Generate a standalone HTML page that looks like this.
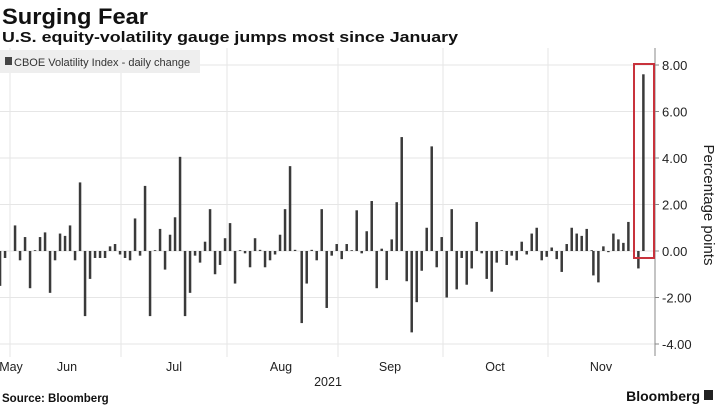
<!DOCTYPE html>
<html><head><meta charset="utf-8"><style>
body{margin:0;background:#fff;width:718px;height:405px;overflow:hidden;font-family:"Liberation Sans",sans-serif}
</style></head><body>
<svg width="718" height="405" xmlns="http://www.w3.org/2000/svg" font-family="Liberation Sans, sans-serif">
<text x="2" y="24" font-size="22" font-weight="bold" fill="#111" textLength="146" lengthAdjust="spacingAndGlyphs">Surging Fear</text>
<text x="2" y="42" font-size="15" font-weight="bold" fill="#111" textLength="456" lengthAdjust="spacingAndGlyphs">U.S. equity-volatility gauge jumps most since January</text>
<g stroke="#e6e6e6" stroke-width="1" id="grid"></g>
<rect x="0" y="50" width="200" height="23" fill="#eeeeee"/>
<rect x="5" y="57" width="7" height="8" fill="#444"/>
<text x="14" y="66" font-size="11" fill="#333">CBOE Volatility Index - daily change</text>
<g id="bars" fill="#3a3a3a"></g>
<line x1="655" y1="48" x2="655" y2="356" stroke="#888" stroke-width="1"/>
<g id="yax" font-size="13" fill="#222"></g>
<rect x="634" y="64" width="20" height="194" fill="none" stroke="#c8323c" stroke-width="2"/>
<text transform="translate(704,205) rotate(90)" text-anchor="middle" font-size="15" fill="#222">Percentage points</text>
<g font-size="12.5" fill="#222" text-anchor="middle">
<text x="11" y="371">May</text><text x="67" y="371">Jun</text><text x="174" y="371">Jul</text><text x="281" y="371">Aug</text><text x="390" y="371">Sep</text><text x="495" y="371">Oct</text><text x="601" y="371">Nov</text>
<text x="328" y="386">2021</text></g>
<text x="2" y="402" font-size="11.5" font-weight="bold" fill="#111">Source: Bloomberg</text>
<text x="700" y="401" font-size="14" font-weight="bold" fill="#111" text-anchor="end">Bloomberg</text>
<rect x="704" y="390" width="9" height="10" fill="#222"/>
</svg>
<script>
var ns="http://www.w3.org/2000/svg";
function el(t,a,p){var e=document.createElementNS(ns,t);for(var k in a)e.setAttribute(k,a[k]);document.getElementById(p).appendChild(e);return e;}
var z=251,u=23.25;
[8,6,4,2,0,-2,-4].forEach(function(v){var y=z-v*u;el('line',{x1:0,x2:655,y1:y,y2:y},'grid');
el('line',{x1:655,x2:659,y1:y,y2:y,stroke:'#888'},'yax');
var t=el('text',{x:662,y:y+5},'yax');t.textContent=(v<0?'-':'')+Math.abs(v).toFixed(2);});
[10,121,227,338,443,548].forEach(function(x){el('line',{x1:x,x2:x,y1:48,y2:357},'grid');});
var a=[[0,-1.5],[15,-0.3],[45,1.1],[60,-0.4],[75,0.6],[90,-1.6],[105,0.02],[120,0.6],[135,0.8],[150,-1.8],[165,-0.4],[180,0.75],[195,0.65],[210,1.1],[225,-0.4],[240,2.95],[255,-2.8],[270,-1.2],[285,-0.3],[300,-0.3],[315,-0.3],[330,0.2],[345,0.3],[360,-0.15],[375,-0.3],[390,-0.4],[405,1.4],[420,-0.2],[435,2.8],[450,-2.8],[465,0.02],[480,0.95],[495,-0.8],[510,0.7],[525,1.45],[540,4.05],[555,-2.8],[570,-1.8],[585,-0.2],[600,-0.5],[615,0.4],[630,1.8],[645,-1.0],[660,-0.6],[675,0.55],[690,1.2],[705,-1.4],[720,0.02],[735,-0.1],[750,-0.7],[765,0.55],[780,0.05],[795,-0.7],[810,-0.4],[825,-0.15],[840,0.7],[855,1.8],[870,3.65],[885,0.05],[905,-3.1],[920,-1.4],[935,0.05],[950,-0.4],[965,1.8],[980,-2.45],[995,-0.2],[1010,0.3],[1025,-0.35],[1040,0.3],[1055,0.02],[1070,1.75]];
var b=[[5,-0.1],[20,0.85],[35,2.15],[50,-1.6],[65,0.1],[80,-1.25],[95,0.5],[110,2.1],[125,4.9],[140,-1.3],[155,-3.5],[170,-2.2],[185,-0.85],[200,1.0],[215,4.5],[230,-0.7],[245,0.6],[260,-2.0],[275,1.8],[290,-1.65],[305,-0.3],[320,-1.45],[335,-0.75],[350,1.25],[365,-0.1],[380,-1.2],[395,-1.75],[410,-0.5],[425,0.02],[440,-0.6],[455,-0.2],[470,-0.4],[485,0.4],[500,-0.15],[515,0.75],[530,1.0],[545,-0.4],[560,-0.25],[575,0.15],[590,-0.35],[605,-0.9],[620,0.3],[635,1.0],[650,0.75],[665,0.65],[680,0.95],[695,0.02],[700,-1.05],[715,-1.35],[730,0.2],[745,-0.05],[760,0.75],[775,0.5],[790,0.35],[805,1.25],[835,-0.75],[850,7.6]];
function draw(x,v){var h=Math.max(Math.abs(v)*u,0.8);el('rect',{x:x-1.2,width:2.5,y:v>0?z-h:z,height:h},'bars');}
a.forEach(function(p){draw(p[0]/3,p[1]);});
b.forEach(function(p){draw(360+p[0]/3,p[1]);});
</script>
</body></html>
